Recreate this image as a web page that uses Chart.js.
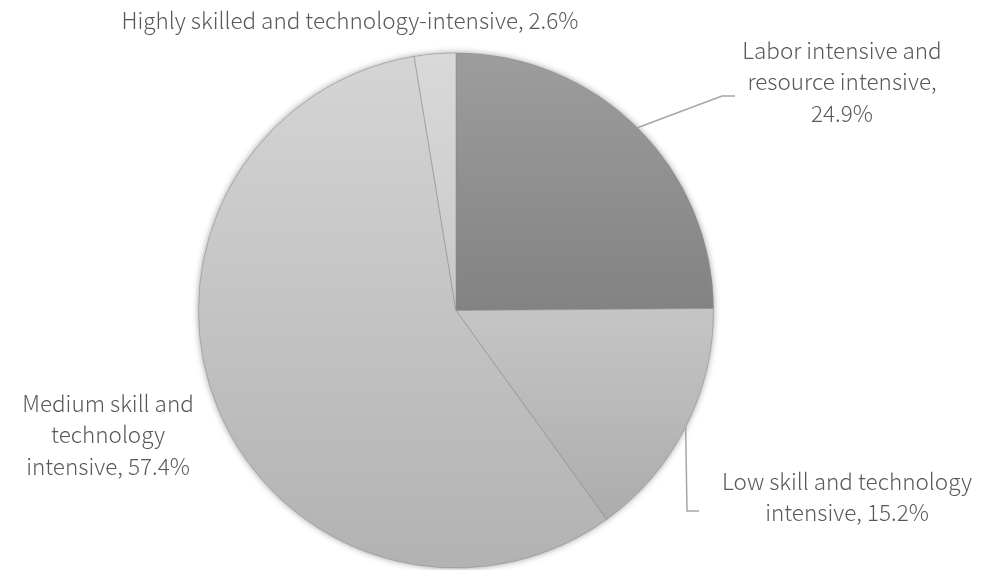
<!DOCTYPE html>
<html>
<head>
<meta charset="utf-8">
<script src="https://cdn.jsdelivr.net/npm/chart.js@4"></script>
<style>
  html, body { margin: 0; padding: 0; background: #fff; }
  #wrap { width: 991px; height: 570px; position: relative; }
</style>
</head>
<body>
<div id="wrap"><canvas id="grafico-pizza"></canvas></div>
<script>
// dados do gráfico
const categorias = [
    "Labor intensive and resource intensive",
    "Low skill and technology intensive",
    "Medium skill and technology intensive",
    "Highly skilled and technology-intensive"
];
const percentuais = [24.9, 15.2, 57.4, 2.6];

// rótulos como aparecem no gráfico (quebras de linha)
const rotulos = [
    ["Labor intensive and", "resource intensive,", "24.9%"],
    ["Low skill and technology", "intensive, 15.2%"],
    ["Medium skill and", "technology", "intensive, 57.4%"],
    ["Highly skilled and technology-intensive, 2.6%"]
];

// gradiente de cinza (topo, base) para cada fatia
const coresTopo = ["#9d9d9d", "#e4e4e4", "#d5d5d5", "#d9d9d9"];
const coresBase = ["#686868", "#a6a6a6", "#b2b2b2", "#b8b8b8"];

// posição dos textos e das linhas de chamada
const posRotulos = [
    { x: 842, y: 50, linha: [[722, 96], [735, 96]] },
    { x: 847, y: 481, linha: [[687, 511], [699, 511]] },
    { x: 108, y: 403, linha: null },
    { x: 350, y: 20, linha: null }
];

function corGradiente(ctx) {
    const chart = ctx.chart;
    const area = chart.chartArea;
    const i = ctx.dataIndex;
    if (!area) return coresTopo[i];
    const g = chart.ctx.createLinearGradient(0, area.top, 0, area.bottom);
    g.addColorStop(0, coresTopo[i]);
    g.addColorStop(1, coresBase[i]);
    return g;
}

// sombra suave por baixo da pizza
const sombraPizza = {
    id: "sombraPizza",
    beforeDatasetsDraw(chart) {
        const arco = chart.getDatasetMeta(0).data[0];
        if (!arco) return;
        const c = chart.ctx;
        c.save();
        c.shadowColor = "rgba(0,0,0,0.45)";
        c.shadowBlur = 7;
        c.fillStyle = "#b8b8b8";
        c.beginPath();
        c.arc(arco.x, arco.y, arco.outerRadius - 0.5, 0, Math.PI * 2);
        c.fill();
        c.restore();
    }
};

// textos e linhas de chamada
const rotulosPizza = {
    id: "rotulosPizza",
    afterDatasetsDraw(chart) {
        const c = chart.ctx;
        const arcos = chart.getDatasetMeta(0).data;
        c.save();
        c.font = "300 22.5px 'Noto Sans CJK SC', 'Noto Sans', sans-serif";
        c.fillStyle = "#595959";
        c.textAlign = "center";
        c.textBaseline = "middle";
        rotulos.forEach((linhas, i) => {
            const p = posRotulos[i];
            linhas.forEach((txt, k) => c.fillText(txt, p.x, p.y + k * 31.5));
            if (p.linha) {
                const a = arcos[i];
                const meio = (a.startAngle + a.endAngle) / 2;
                c.strokeStyle = "#a6a6a6";
                c.lineWidth = 1.5;
                c.beginPath();
                c.moveTo(a.x + Math.cos(meio) * a.outerRadius, a.y + Math.sin(meio) * a.outerRadius);
                p.linha.forEach(pt => c.lineTo(pt[0], pt[1]));
                c.stroke();
            }
        });
        c.restore();
    }
};

const ctx = document.getElementById("grafico-pizza").getContext("2d");
new Chart(ctx, {
    type: "pie",
    data: {
        labels: categorias,
        datasets: [{
            data: percentuais,
            backgroundColor: corGradiente,
            borderColor: "rgba(140,140,140,0.55)",
            borderWidth: 1
        }]
    },
    options: {
        responsive: true,
        maintainAspectRatio: false,
        animation: false,
        rotation: 0,
        layout: { padding: { left: 198, right: 277, top: 52, bottom: 1 } },
        plugins: {
            legend: { display: false },
            tooltip: { enabled: false }
        }
    },
    plugins: [sombraPizza, rotulosPizza]
});
</script>
</body>
</html>
